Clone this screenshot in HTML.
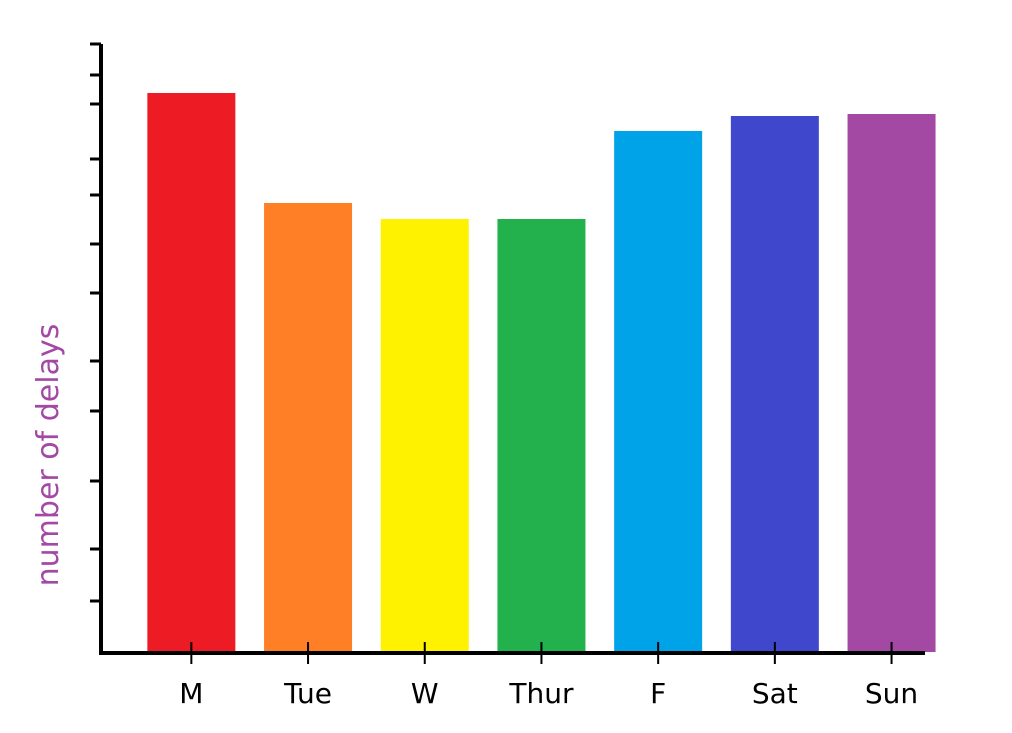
<!DOCTYPE html>
<html><head><meta charset="utf-8"><style>
html,body{margin:0;padding:0;background:#fff;}
svg{display:block;}
</style></head><body>
<svg id="chart" width="1012" height="733" xmlns="http://www.w3.org/2000/svg"></svg>
<script>
const categories = ["M","Tue","W","Thur","F","Sat","Sun"];
const values = [559, 449, 433, 433, 521, 536, 538];
const colors = ["#ed1c24","#ff7f27","#fff200","#22b14c","#00a2e8","#3f48cc","#a349a4"];
const yTicks = [51, 103, 171, 241, 291, 359, 408, 457, 493, 548, 577, 608];

const svg = document.getElementById('chart');
const NS = 'http://www.w3.org/2000/svg';
const baseY = 652, yMax = 610, plotTop = 42;
const y = v => baseY - v * (baseY - plotTop) / yMax;
const x0 = 133, step = 116.7, barW = 88;
const xc = i => x0 + step * i + step / 2;

function mk(tag, attrs){ const e = document.createElementNS(NS, tag); for (const k in attrs) e.setAttribute(k, attrs[k]); svg.appendChild(e); return e; }

categories.forEach((c, i) => {
  const r = mk('rect', {x: xc(i) - barW/2, y: y(values[i]), width: barW, height: baseY - y(values[i]), fill: colors[i]});
  
  
  const t = mk('line', {x1: xc(i), x2: xc(i), y1: 642, y2: 664, stroke: '#000', 'stroke-width': 2});
  
  
  const l = mk('text', {x: xc(i), y: 703, 'text-anchor': 'middle', 'font-family': '"Comic Sans MS","DejaVu Sans",sans-serif', 'font-size': 28, fill: '#000'});
  l.textContent = c;
  
  
});

yTicks.forEach(v => {
  const t = mk('line', {x1: 90, x2: 101, y1: y(v), y2: y(v), stroke: '#000', 'stroke-width': 3});
  
  
});

const ya = mk('line', {x1: 101, x2: 101, y1: 44, y2: 654, stroke: '#000', 'stroke-width': 4});


const xa = mk('line', {x1: 99, x2: 925, y1: 653, y2: 653, stroke: '#000', 'stroke-width': 4});



const yt = mk('text', {x: 0, y: 0, transform: 'translate(58,455) rotate(-90)', 'text-anchor': 'middle', 'font-family': '"Comic Sans MS","DejaVu Sans",sans-serif', 'font-size': 30, fill: '#a349a4'});
yt.textContent = 'number of delays';


</script>
</body></html>
